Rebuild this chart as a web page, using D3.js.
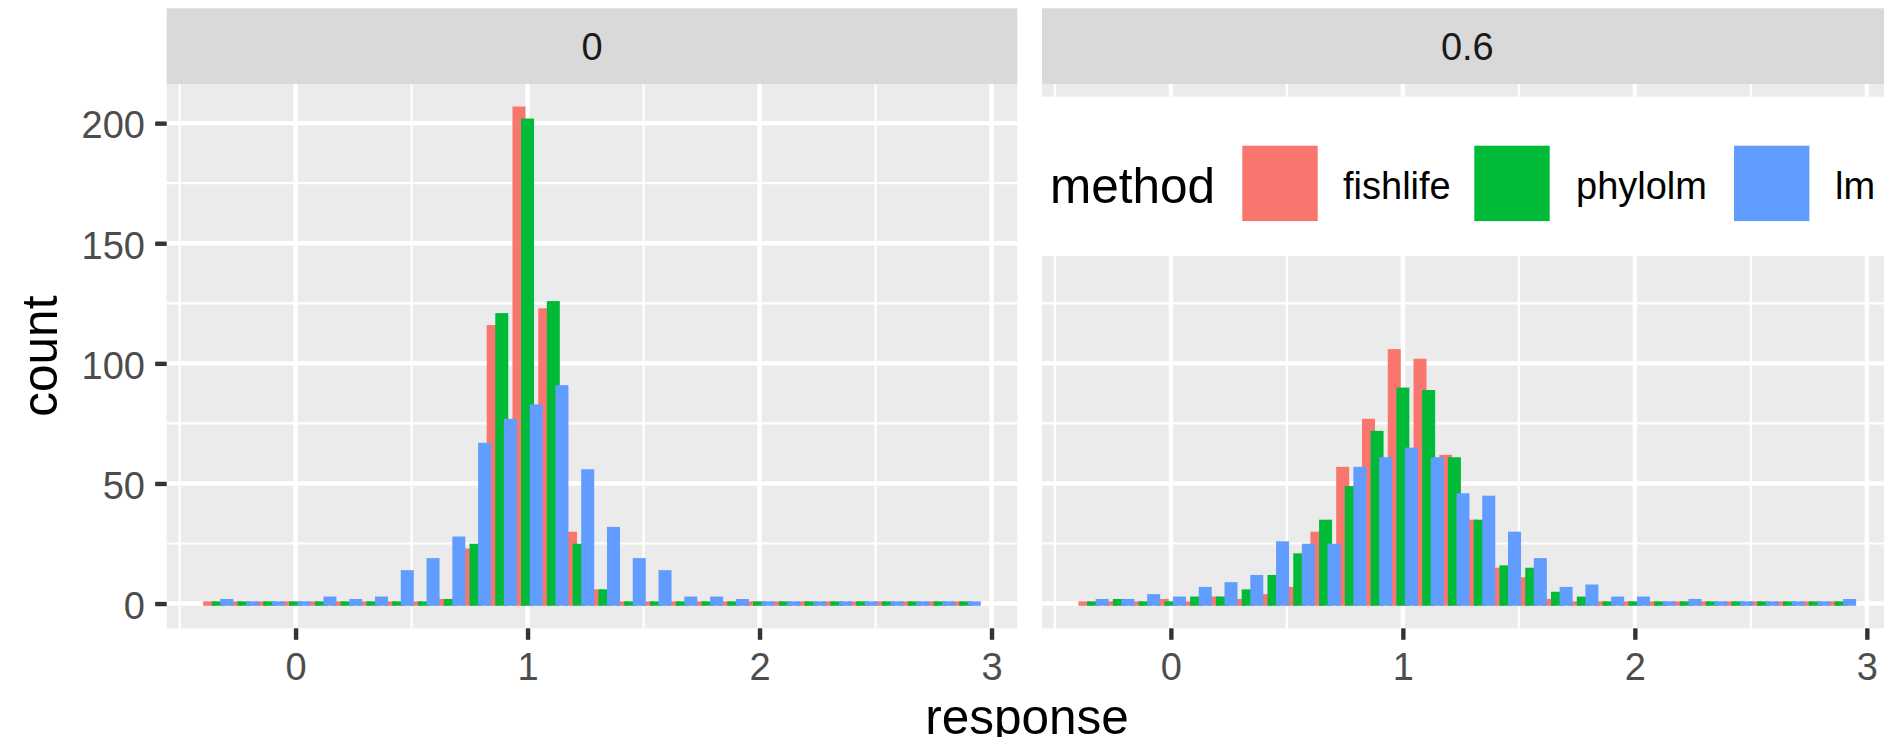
<!DOCTYPE html>
<html><head><meta charset="utf-8">
<script src="https://cdn.jsdelivr.net/npm/d3@7"></script>
<style>
body{margin:0;background:#fff}
svg{display:block}
</style>
</head><body>
<svg id="chart" width="1884" height="737"></svg>
<script>
// ---------------- data ----------------
const facets = ["0", "0.6"];
const methods = ["fishlife", "phylolm", "lm"];
const methodColors = ["#F8766D", "#00BA38", "#619CFF"];
const binCenters = [-0.3333, -0.2222, -0.1111, 0, 0.1111, 0.2222, 0.3333, 0.4444, 0.5556, 0.6667,
                    0.7778, 0.8889, 1, 1.1111, 1.2222, 1.3333, 1.4444, 1.5556, 1.6667, 1.7778,
                    1.8889, 2, 2.1111, 2.2222, 2.3333, 2.4444, 2.5556, 2.6667, 2.7778, 2.8889];
const binWidth = 0.1111;
// counts, facet "0"
const fishlife_0 = [0,0,0,0,0,0,0,0,0,1,22,115,206,122,29,5,0,0,0,0,0,0,0,0,0,0,0,0,0,0];
const phylolm_0  = [0,0,0,0,0,0,0,0,0,1,24,120,201,125,24,5,0,0,0,0,0,0,0,0,0,0,0,0,0,0];
const lm_0       = [1,0,0,0,2,1,2,13,18,27,66,76,82,90,55,31,18,13,2,2,1,0,0,0,0,0,0,0,0,0];
// counts, facet "0.6"
const fishlife_06 = [0,0,0,1,0,2,1,3,6,29,56,76,105,101,61,34,14,10,1,0,0,0,0,0,0,0,0,0,0,0];
const phylolm_06  = [0,1,0,0,2,2,5,11,20,34,48,71,89,88,60,34,15,14,4,2,0,0,0,0,0,0,0,0,0,0];
const lm_06       = [1,1,3,2,6,8,11,25,24,24,56,60,64,60,45,44,29,18,6,7,2,2,0,1,0,0,0,0,0,1];
const yTicks = [0, 50, 100, 150, 200];
const yMinorTicks = [25, 75, 125, 175];
const xTicks = [0, 1, 2, 3];
const xMinorTicks = [-0.5, 0.5, 1.5, 2.5];
const xTitle = "response", yTitle = "count", legendTitle = "method";

const seriesByFacet = [[fishlife_0, phylolm_0, lm_0], [fishlife_06, phylolm_06, lm_06]];

// ---------------- layout ----------------
const FONT = '"Liberation Sans", Arial, Helvetica, sans-serif';
const panelTop = 84, panelBottom = 628.3, stripTop = 8.3;
const panelLefts = [166.7, 1042], panelW = 850.6;
const majorW = 4.4, minorW = 2.2, halfStroke = 2.2;

const svg = d3.select("#chart");
svg.append("rect").attr("width", 1884).attr("height", 737).attr("fill", "#fff");

const binLo = binCenters[0] - binWidth / 2;
const binHi = binCenters[binCenters.length - 1] + binWidth / 2;
const span = binHi - binLo;
const xDomain = [binLo - 0.05 * span, binHi + 0.05 * span];
const maxCount = d3.max(seriesByFacet.flat(2));
const y = d3.scaleLinear().domain([-0.05 * maxCount, 1.05 * maxCount]).range([panelBottom, panelTop]);

facets.forEach((fl, fi) => {
  const L = panelLefts[fi];
  const x = d3.scaleLinear().domain(xDomain).range([L, L + panelW]);
  const g = svg.append("g");
  // panel bg
  g.append("rect").attr("x", L).attr("y", panelTop).attr("width", panelW)
    .attr("height", panelBottom - panelTop).attr("fill", "#EBEBEB");
  // grid minor
  g.selectAll(".ym").data(yMinorTicks).join("line")
    .attr("x1", L).attr("x2", L + panelW).attr("y1", d => y(d)).attr("y2", d => y(d))
    .attr("stroke", "#fff").attr("stroke-width", minorW);
  g.selectAll(".xm").data(xMinorTicks).join("line")
    .attr("y1", panelTop).attr("y2", panelBottom).attr("x1", d => x(d)).attr("x2", d => x(d))
    .attr("stroke", "#fff").attr("stroke-width", minorW);
  g.selectAll(".yM").data(yTicks).join("line")
    .attr("x1", L).attr("x2", L + panelW).attr("y1", d => y(d)).attr("y2", d => y(d))
    .attr("stroke", "#fff").attr("stroke-width", majorW);
  g.selectAll(".xM").data(xTicks).join("line")
    .attr("y1", panelTop).attr("y2", panelBottom).attr("x1", d => x(d)).attr("x2", d => x(d))
    .attr("stroke", "#fff").attr("stroke-width", majorW);
  // bars (dodged, filled + same-colour outline)
  methods.forEach((m, mi) => {
    const vals = seriesByFacet[fi][mi];
    g.append("g").selectAll("rect").data(vals.map((v, i) => ({v, c: binCenters[i]}))).join("rect")
      .attr("x", d => x(d.c - binWidth / 2 + mi * binWidth / 3) - halfStroke)
      .attr("width", d => x(d.c - binWidth / 2 + (mi + 1) * binWidth / 3) - x(d.c - binWidth / 2 + mi * binWidth / 3) + 2 * halfStroke)
      .attr("y", d => y(d.v) - halfStroke)
      .attr("height", d => y(0) - y(d.v) + 2 * halfStroke)
      .attr("fill", methodColors[mi]);
  });
  // strip
  g.append("rect").attr("x", L).attr("y", stripTop).attr("width", panelW)
    .attr("height", panelTop - stripTop).attr("fill", "#D9D9D9");
  g.append("text").attr("x", L + panelW / 2).attr("y", 59.5).attr("text-anchor", "middle")
    .attr("font-family", FONT).attr("font-size", 38).attr("fill", "#1A1A1A").text(fl);
  // x axis
  const ax = svg.append("g").attr("transform", `translate(0,${panelBottom})`)
    .call(d3.axisBottom(x).tickValues(xTicks).tickFormat(d3.format("d")).tickSize(11.5).tickPadding(13));
  ax.select(".domain").remove();
  ax.selectAll("line").attr("stroke", "#333333").attr("stroke-width", majorW);
  ax.selectAll("text").attr("font-family", FONT).attr("font-size", 38).attr("fill", "#4D4D4D");
});

// y axis
const ay = svg.append("g").attr("transform", `translate(${panelLefts[0]},0)`)
  .call(d3.axisLeft(y).tickValues(yTicks).tickFormat(d3.format("d")).tickSize(11.5).tickPadding(10.2));
ay.select(".domain").remove();
ay.selectAll("line").attr("stroke", "#333333").attr("stroke-width", majorW);
ay.selectAll("text").attr("font-family", FONT).attr("font-size", 38).attr("fill", "#4D4D4D").attr("dy", "0.39em");

// axis titles
svg.append("text").attr("x", 1027).attr("y", 734).attr("text-anchor", "middle")
  .attr("font-family", FONT).attr("font-size", 49.5).attr("fill", "#000").text(xTitle);
svg.append("text").attr("transform", `translate(56.5,${(panelTop + panelBottom) / 2}) rotate(-90)`)
  .attr("text-anchor", "middle").attr("font-family", FONT).attr("font-size", 49.5).attr("fill", "#000").text(yTitle);

// legend (drawn over right panel)
const lg = svg.append("g");
lg.append("rect").attr("x", 1042).attr("y", 96.7).attr("width", 900).attr("height", 256 - 96.7).attr("fill", "#fff");
lg.append("text").attr("x", 1050).attr("y", 203.3).attr("font-family", FONT).attr("font-size", 49.5)
  .attr("fill", "#000").text(legendTitle);
const keyX = [1242.3, 1474.3, 1734], labelX = [1343, 1576, 1835], keySize = 75.4;
methods.forEach((m, mi) => {
  lg.append("rect").attr("x", keyX[mi]).attr("y", 145.7).attr("width", keySize).attr("height", keySize)
    .attr("fill", methodColors[mi]);
  lg.append("text").attr("x", labelX[mi]).attr("y", 199.3).attr("font-family", FONT).attr("font-size", 38)
    .attr("fill", "#000").text(m);
});
</script>
</body></html>
